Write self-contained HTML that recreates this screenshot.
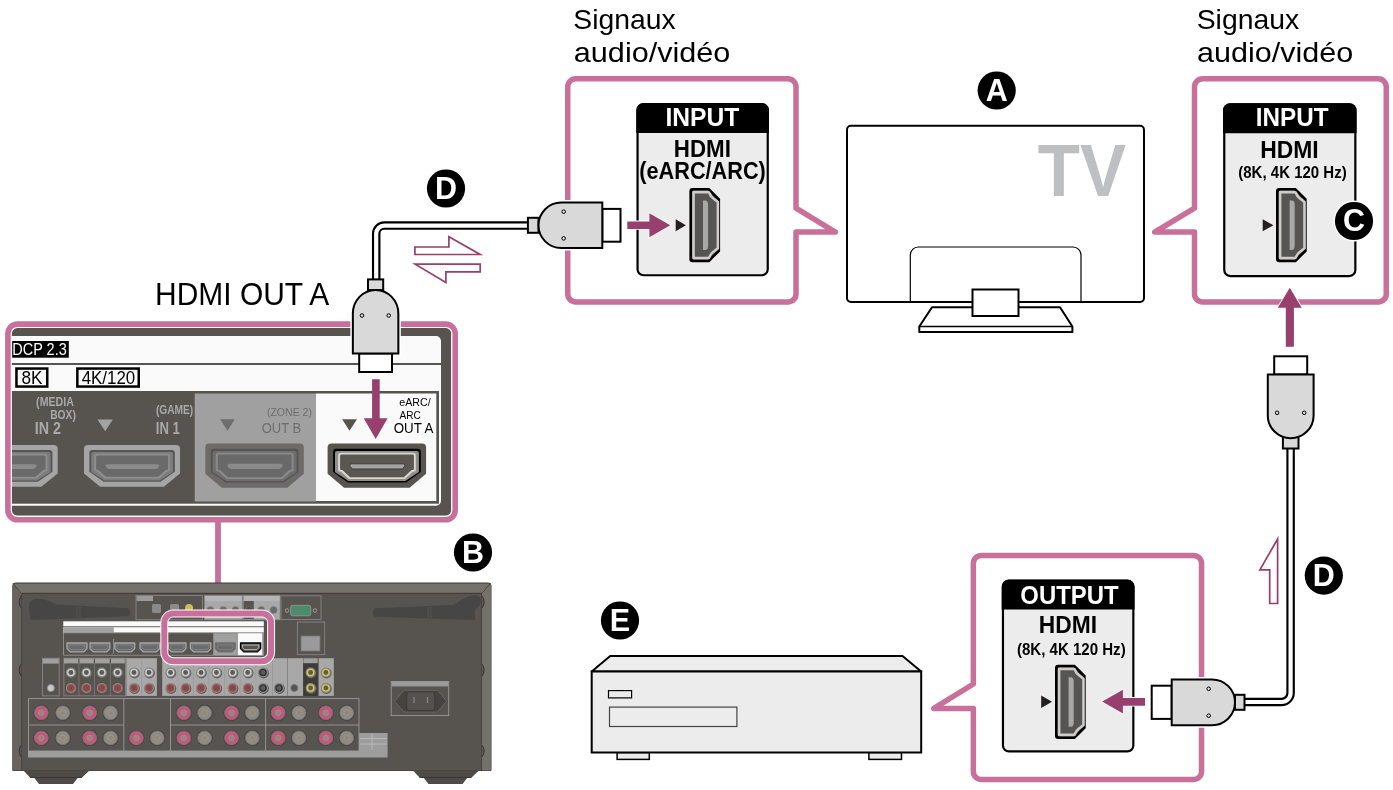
<!DOCTYPE html><html><head><meta charset="utf-8"><style>html,body{margin:0;padding:0;background:#fff;width:1393px;height:790px;overflow:hidden;position:relative}text{font-family:"Liberation Sans",sans-serif}</style></head><body><svg width="1393" height="790" viewBox="0 0 1393 790" style="position:absolute;left:0;top:0;will-change:transform;font-family:'Liberation Sans',sans-serif">
<rect width="1393" height="790" fill="#fff"/>
<text x="573.38" y="28.6" font-size="27.5" font-weight="normal" fill="#000" textLength="102.32" lengthAdjust="spacingAndGlyphs">Signaux</text>
<text x="573.85" y="61.6" font-size="27.5" font-weight="normal" fill="#000" textLength="156.47" lengthAdjust="spacingAndGlyphs">audio/vidéo</text>
<text x="1196.71" y="28.6" font-size="27.5" font-weight="normal" fill="#000" textLength="102.5" lengthAdjust="spacingAndGlyphs">Signaux</text>
<text x="1197.09" y="61.6" font-size="27.5" font-weight="normal" fill="#000" textLength="156.15" lengthAdjust="spacingAndGlyphs">audio/vidéo</text>
<path d="M575.75,78.8 H788 A8,8 0 0 1 796,86.8 V208.2 L835.4,232.1 H796 V293.9 A8,8 0 0 1 788,301.9 H575.75 A8,8 0 0 1 567.75,293.9 V86.8 A8,8 0 0 1 575.75,78.8 Z" fill="none" stroke="#c8709a" stroke-width="5.5" stroke-linejoin="round"/>
<path d="M1202.5,78.8 H1378.25 A8,8 0 0 1 1386.25,86.8 V293.9 A8,8 0 0 1 1378.25,301.9 H1202.5 A8,8 0 0 1 1194.5,293.9 V232.1 H1154.7 L1194.5,208.2 V86.8 A8,8 0 0 1 1202.5,78.8 Z" fill="none" stroke="#c8709a" stroke-width="5.5" stroke-linejoin="round"/>
<path d="M981.35,555.45 H1193.55 A8,8 0 0 1 1201.55,563.45 V771.45 A8,8 0 0 1 1193.55,779.45 H981.35 A8,8 0 0 1 973.35,771.45 V708.4 H933.8 L973.35,684 V563.45 A8,8 0 0 1 981.35,555.45 Z" fill="none" stroke="#c8709a" stroke-width="5.5" stroke-linejoin="round"/>
<rect x="637.55" y="104.25" width="130.20000000000005" height="171.0" rx="6" fill="#ececec" stroke="#000" stroke-width="2.2"/>
<path d="M636.3,133 V110 A7,7 0 0 1 643.3,103 H762 A7,7 0 0 1 769,110 V133 Z" fill="#000"/>
<text x="665.4" y="126.3" font-size="25.5" font-weight="bold" fill="#fff" textLength="73.87" lengthAdjust="spacingAndGlyphs">INPUT</text>
<text x="673.83" y="157.1" font-size="23.3" font-weight="bold" fill="#000" textLength="57.08" lengthAdjust="spacingAndGlyphs">HDMI</text>
<text x="639.33" y="179.2" font-size="23" font-weight="bold" fill="#000" textLength="126.47" lengthAdjust="spacingAndGlyphs">(eARC/ARC)</text>
<g transform="translate(689.4,188) scale(1.0000,1.0000)">
<path d="M3,0 H19.9 L30.7,10.8 V63.4 L19.9,74.2 H3 Q0,74.2 0,71.2 V3 Q0,0 3,0 Z" fill="#000"/>
<path d="M4.8,2.6 H19 L28.1,11.7 V62.5 L19,71.6 H4.8 Q2.6,71.6 2.6,69.4 V4.8 Q2.6,2.6 4.8,2.6 Z" fill="#3c3c3c"/>
<path d="M4.1,4.1 H18.6 Q19.9,4.1 20.5,6 Q21.2,8.2 23.5,10 L28.5,14 V60.2 L23.5,64.2 Q21.2,66 20.5,68.2 Q19.9,70.1 18.6,70.1 H4.1 Z" fill="#575553" stroke="#cfcccb" stroke-width="2.6" stroke-linejoin="round"/>
<path d="M13.6,12.5 H15.6 Q18.7,12.5 18.7,16.5 V58 Q18.7,62 15.6,62 H13.6 Z" fill="#a8a8a8"/>
</g>
<polygon points="675.7,219.3 685.9,225.2 675.7,231.2" fill="#231f20"/>
<path d="M627.3,221.4 H649.4 V213.3 L670.3,225.2 L649.4,237.2 V229 H627.3 Z" fill="#973f6d" stroke="#fff" stroke-width="1.6" paint-order="stroke"/>
<rect x="1224.25" y="104.45" width="131.0999999999999" height="171.60000000000002" rx="6" fill="#ececec" stroke="#000" stroke-width="2.2"/>
<path d="M1223,133.2 V110.2 A7,7 0 0 1 1230,103.2 H1349.6 A7,7 0 0 1 1356.6,110.2 V133.2 Z" fill="#000"/>
<text x="1255.86" y="126.3" font-size="25.5" font-weight="bold" fill="#fff" textLength="72.68" lengthAdjust="spacingAndGlyphs">INPUT</text>
<text x="1260.15" y="157.6" font-size="23.3" font-weight="bold" fill="#000" textLength="58.51" lengthAdjust="spacingAndGlyphs">HDMI</text>
<text x="1238.27" y="178.4" font-size="16.5" font-weight="bold" fill="#000" textLength="108.42" lengthAdjust="spacingAndGlyphs">(8K, 4K 120 Hz)</text>
<g transform="translate(1276,188) scale(1.0000,1.0000)">
<path d="M3,0 H19.9 L30.7,10.8 V63.4 L19.9,74.2 H3 Q0,74.2 0,71.2 V3 Q0,0 3,0 Z" fill="#000"/>
<path d="M4.8,2.6 H19 L28.1,11.7 V62.5 L19,71.6 H4.8 Q2.6,71.6 2.6,69.4 V4.8 Q2.6,2.6 4.8,2.6 Z" fill="#3c3c3c"/>
<path d="M4.1,4.1 H18.6 Q19.9,4.1 20.5,6 Q21.2,8.2 23.5,10 L28.5,14 V60.2 L23.5,64.2 Q21.2,66 20.5,68.2 Q19.9,70.1 18.6,70.1 H4.1 Z" fill="#575553" stroke="#cfcccb" stroke-width="2.6" stroke-linejoin="round"/>
<path d="M13.6,12.5 H15.6 Q18.7,12.5 18.7,16.5 V58 Q18.7,62 15.6,62 H13.6 Z" fill="#a8a8a8"/>
</g>
<polygon points="1262.7,219.2 1273.4,225.25 1262.7,231.3" fill="#231f20"/>
<circle cx="1354" cy="221" r="20.5" fill="#fff"/>
<circle cx="1354" cy="221" r="19.1" fill="#000"/>
<text x="1354" y="231.4" font-size="30.5" font-weight="bold" fill="#fff" text-anchor="middle">C</text>
<rect x="847" y="125.8" width="297" height="176.2" rx="4" fill="#fff" stroke="#000" stroke-width="2"/>
<text x="1037.81" y="196.4" font-size="75" font-weight="bold" fill="#bebfc2" textLength="88.27" lengthAdjust="spacingAndGlyphs">TV</text>
<path d="M910.3,302 V255 A8,8 0 0 1 918.3,247 H1073 A8,8 0 0 1 1081,255 V302" fill="none" stroke="#000" stroke-width="1.2"/>
<path d="M932,307.3 H1060 L1072.4,326.5 V332 H919.3 V326.5 Z" fill="#fff" stroke="#000" stroke-width="2" stroke-linejoin="round"/>
<path d="M919.3,326.5 H1072.4" stroke="#000" stroke-width="1.5"/>
<rect x="972.5" y="289.5" width="46" height="26.5" fill="#fff" stroke="#000" stroke-width="2"/>
<circle cx="996.7" cy="90.5" r="19.1" fill="#000"/>
<text x="996.7" y="100.9" font-size="30.5" font-weight="bold" fill="#fff" text-anchor="middle">A</text>
<path d="M376.2,284 V233.6 A8,8 0 0 1 384.2,225.6 H530" fill="none" stroke="#000" stroke-width="8.5" stroke-linejoin="round"/>
<path d="M376.2,284 V233.6 A8,8 0 0 1 384.2,225.6 H530" fill="none" stroke="#fff" stroke-width="4.2" stroke-linejoin="round"/>
<path d="M1236,702 H1281.6 A9,9 0 0 0 1290.6,693 V445" fill="none" stroke="#000" stroke-width="8.5" stroke-linejoin="round"/>
<path d="M1236,702 H1281.6 A9,9 0 0 0 1290.6,693 V445" fill="none" stroke="#fff" stroke-width="4.2" stroke-linejoin="round"/>
<path d="M561.25,202.55 H602.3 V248.05 H561.25 A22.75,22.75 0 0 1 561.25,202.55 Z" fill="#fff" stroke="#fff" stroke-width="5"/>
<rect x="527.9" y="217.8" width="10.6" height="15" fill="#d9d9d9" stroke="#000" stroke-width="2"/>
<rect x="602.3" y="208.9" width="18.2" height="32.8" fill="#fff" stroke="#000" stroke-width="2"/>
<path d="M561.25,202.55 H602.3 V248.05 H561.25 A22.75,22.75 0 0 1 561.25,202.55 Z" fill="#d9d9d9" stroke="#000" stroke-width="2"/>
<circle cx="563.7" cy="211.70000000000002" r="1.8" fill="none" stroke="#000" stroke-width="1"/>
<circle cx="563.7" cy="238.4" r="1.8" fill="none" stroke="#000" stroke-width="1"/>
<path d="M1212.1,679.4 H1171.7 V725.1999999999999 H1212.1 A22.9,22.9 0 0 0 1212.1,679.4 Z" fill="#fff" stroke="#fff" stroke-width="5"/>
<rect x="1235" y="694.8" width="9.5" height="15" fill="#d9d9d9" stroke="#000" stroke-width="2"/>
<rect x="1151.7" y="685.6999999999999" width="20" height="33.2" fill="#fff" stroke="#000" stroke-width="2"/>
<path d="M1212.1,679.4 H1171.7 V725.1999999999999 H1212.1 A22.9,22.9 0 0 0 1212.1,679.4 Z" fill="#d9d9d9" stroke="#000" stroke-width="2"/>
<circle cx="1208.7" cy="688.8" r="1.8" fill="none" stroke="#000" stroke-width="1"/>
<circle cx="1208.7" cy="715.6999999999999" r="1.8" fill="none" stroke="#000" stroke-width="1"/>
<path d="M1267.8,374.5 H1313.6000000000001 V415.4 A22.9,22.9 0 0 1 1267.8,415.4 Z" fill="#fff" stroke="#fff" stroke-width="5"/>
<rect x="1274.2" y="356.3" width="33" height="18.2" fill="#fff" stroke="#000" stroke-width="2"/>
<rect x="1282.9" y="436.5" width="15.6" height="12" fill="#d9d9d9" stroke="#000" stroke-width="2"/>
<path d="M1267.8,374.5 H1313.6000000000001 V415.4 A22.9,22.9 0 0 1 1267.8,415.4 Z" fill="#d9d9d9" stroke="#000" stroke-width="2"/>
<circle cx="1277.1000000000001" cy="412.8" r="1.8" fill="none" stroke="#000" stroke-width="1"/>
<circle cx="1304.2" cy="412.8" r="1.8" fill="none" stroke="#000" stroke-width="1"/>
<polygon points="414.9,247 448.9,247 448.9,236.7 480.2,254.5 414.9,254.5" fill="none" stroke="#973f6d" stroke-width="1.7" stroke-linejoin="miter"/>
<polygon points="480.2,264.2 415.1,264.2 445.9,282.6 445.9,271.9 480.2,271.9" fill="none" stroke="#973f6d" stroke-width="1.7" stroke-linejoin="miter"/>
<polygon points="1277.6,539 1277.6,603.5 1269.7,603.5 1269.7,569.9 1259.9,569.9" fill="none" stroke="#973f6d" stroke-width="1.7" stroke-linejoin="miter"/>
<path d="M1285.8,346.7 V307.8 H1277.8 L1289.8,287.7 L1301.7,307.8 H1293.9 V346.7 Z" fill="#973f6d" stroke="#fff" stroke-width="1.8" paint-order="stroke"/>
<circle cx="446" cy="188.5" r="19.1" fill="#000"/>
<text x="446" y="198.9" font-size="30.5" font-weight="bold" fill="#fff" text-anchor="middle">D</text>
<circle cx="1323.8" cy="575.6" r="19.1" fill="#000"/>
<text x="1323.8" y="586.0" font-size="30.5" font-weight="bold" fill="#fff" text-anchor="middle">D</text>
<circle cx="620" cy="620.5" r="19.1" fill="#000"/>
<text x="620" y="630.9" font-size="30.5" font-weight="bold" fill="#fff" text-anchor="middle">E</text>
<circle cx="473" cy="552.5" r="19.1" fill="#000"/>
<text x="473" y="562.9" font-size="30.5" font-weight="bold" fill="#fff" text-anchor="middle">B</text>
<rect x="1002.95" y="580.85" width="130.39999999999986" height="170.60000000000002" rx="6" fill="#ececec" stroke="#000" stroke-width="2.2"/>
<path d="M1001.7,609.6 V586.6 A7,7 0 0 1 1008.7,579.6 H1127.6 A7,7 0 0 1 1134.6,586.6 V609.6 Z" fill="#000"/>
<text x="1020.3" y="603.7" font-size="25.5" font-weight="bold" fill="#fff" textLength="98.3" lengthAdjust="spacingAndGlyphs">OUTPUT</text>
<text x="1038.85" y="632.9" font-size="23.3" font-weight="bold" fill="#000" textLength="58.21" lengthAdjust="spacingAndGlyphs">HDMI</text>
<text x="1016.91" y="654.8" font-size="16.5" font-weight="bold" fill="#000" textLength="108.75" lengthAdjust="spacingAndGlyphs">(8K, 4K 120 Hz)</text>
<g transform="translate(1055,664.8) scale(1.0000,1.0000)">
<path d="M3,0 H19.9 L30.7,10.8 V63.4 L19.9,74.2 H3 Q0,74.2 0,71.2 V3 Q0,0 3,0 Z" fill="#000"/>
<path d="M4.8,2.6 H19 L28.1,11.7 V62.5 L19,71.6 H4.8 Q2.6,71.6 2.6,69.4 V4.8 Q2.6,2.6 4.8,2.6 Z" fill="#3c3c3c"/>
<path d="M4.1,4.1 H18.6 Q19.9,4.1 20.5,6 Q21.2,8.2 23.5,10 L28.5,14 V60.2 L23.5,64.2 Q21.2,66 20.5,68.2 Q19.9,70.1 18.6,70.1 H4.1 Z" fill="#575553" stroke="#cfcccb" stroke-width="2.6" stroke-linejoin="round"/>
<path d="M13.6,12.5 H15.6 Q18.7,12.5 18.7,16.5 V58 Q18.7,62 15.6,62 H13.6 Z" fill="#a8a8a8"/>
</g>
<polygon points="1041.2,695.5 1052,701.75 1041.2,708" fill="#231f20"/>
<path d="M1145,697.9 H1122.9 V689.7 L1102.1,701.6 L1122.9,713.6 V705.7 H1145 Z" fill="#973f6d" stroke="#fff" stroke-width="1.6" paint-order="stroke"/>
<path d="M591.7,671.5 L610.2,656.1 H902.5 L921.2,671.5 Z" fill="#ececec" stroke="#000" stroke-width="2" stroke-linejoin="round"/>
<rect x="617.1" y="752.5" width="32.2" height="6.9" fill="#ececec" stroke="#000" stroke-width="1.5"/>
<rect x="868.9" y="752.5" width="32.6" height="6.9" fill="#ececec" stroke="#000" stroke-width="1.5"/>
<rect x="591.7" y="671.5" width="329.5" height="81" fill="#ececec" stroke="#000" stroke-width="2"/>
<rect x="608.5" y="690.6" width="23.1" height="7.3" fill="#ececec" stroke="#000" stroke-width="1.2"/>
<rect x="609.5" y="707.1" width="127.4" height="19.4" fill="#ececec" stroke="#444" stroke-width="1.2"/>
<text x="155.06" y="304.8" font-size="31.6" font-weight="normal" fill="#000" textLength="174.22" lengthAdjust="spacingAndGlyphs">HDMI OUT A</text>
<defs><clipPath id="pclip"><rect x="11.5" y="327.7" width="440" height="188"/></clipPath></defs>
<rect x="11" y="327.7" width="440.2" height="188" rx="2.5" fill="#57534f"/>
<g clip-path="url(#pclip)">
<path d="M0,336 H436 A5,5 0 0 1 441,341 V500.7 A5,5 0 0 1 436,505.7 H0 Z" fill="#fafafa"/>
<rect x="0" y="363" width="441" height="2" fill="#57534f"/>
<rect x="0" y="391" width="439" height="112.7" fill="#57534f"/>
<rect x="194.7" y="393.5" width="121.3" height="108" fill="#a0a0a0"/>
<rect x="316" y="393.5" width="120.3" height="107.5" fill="#fafafa"/>
<rect x="12.2" y="341" width="56.6" height="16.7" fill="#000"/>
<text x="12.28" y="355.4" font-size="16" font-weight="normal" fill="#fff" textLength="54.44" lengthAdjust="spacingAndGlyphs">DCP 2.3</text>
<rect x="16.45" y="368.55" width="30.8" height="18" fill="none" stroke="#000" stroke-width="2.5"/>
<text x="21.43" y="384.3" font-size="18.5" font-weight="normal" fill="#000" textLength="21.05" lengthAdjust="spacingAndGlyphs">8K</text>
<rect x="77.35" y="368.55" width="61.4" height="18" fill="none" stroke="#000" stroke-width="2.5"/>
<text x="81.67" y="383.7" font-size="18.3" font-weight="normal" fill="#000" textLength="53.52" lengthAdjust="spacingAndGlyphs">4K/120</text>
<text x="36.12" y="405.8" font-size="12.5" font-weight="bold" fill="#a9a9a9" textLength="37.68" lengthAdjust="spacingAndGlyphs">(MEDIA</text>
<text x="50.22" y="418.6" font-size="12.5" font-weight="bold" fill="#a9a9a9" textLength="25.62" lengthAdjust="spacingAndGlyphs">BOX)</text>
<text x="34.83" y="433.7" font-size="15.6" font-weight="bold" fill="#a9a9a9" textLength="26.24" lengthAdjust="spacingAndGlyphs">IN 2</text>
<text x="155.88" y="413.9" font-size="12.5" font-weight="bold" fill="#a9a9a9" textLength="37.26" lengthAdjust="spacingAndGlyphs">(GAME)</text>
<text x="155.8" y="433.7" font-size="15.6" font-weight="bold" fill="#a9a9a9" textLength="24.15" lengthAdjust="spacingAndGlyphs">IN 1</text>
<text x="266.93" y="415.9" font-size="11.5" font-weight="normal" fill="#6e6e6e" textLength="45.0" lengthAdjust="spacingAndGlyphs">(ZONE 2)</text>
<text x="261.78" y="433.2" font-size="15.5" font-weight="normal" fill="#6e6e6e" textLength="39.36" lengthAdjust="spacingAndGlyphs">OUT B</text>
<text x="399.28" y="405.7" font-size="11.5" font-weight="normal" fill="#000" textLength="31.35" lengthAdjust="spacingAndGlyphs">eARC/</text>
<text x="399.42" y="418.6" font-size="11.5" font-weight="normal" fill="#000" textLength="21.34" lengthAdjust="spacingAndGlyphs">ARC</text>
<text x="393.65" y="433.2" font-size="15.5" font-weight="normal" fill="#000" textLength="39.76" lengthAdjust="spacingAndGlyphs">OUT A</text>
<polygon points="97.5,419.5 112.8,419.5 105.15,431.2" fill="#a3a3a3"/>
<polygon points="220.2,419.2 234.8,419.2 227.5,430.8" fill="#6e6e6e"/>
<polygon points="342.1,419.2 357,419.2 349.55,430.8" fill="#57534f"/>
<g transform="translate(-40.3,444.9) scale(0.9949,0.9436)">
<path d="M4,0 H94.5 Q98.5,0 98.5,4 V30.4 L82,44.3 H16.5 L0,30.4 V4 Q0,0 4,0 Z" fill="#a5a5a5"/>
<path d="M8.5,5.4 H90.2 Q93.2,5.4 93.2,8.4 V28.5 L78.5,39.1 H20.2 L5.5,28.5 V8.4 Q5.5,5.4 8.5,5.4 Z" fill="#565656"/>
<path d="M9.5,7.6 H89.2 Q91.3,7.6 91.3,9.6 V28.6 L77.8,37.6 H20.9 L7.4,28.6 V9.6 Q7.4,7.6 9.5,7.6 Z" fill="#7c7c7c"/>
<path d="M13,9.4 H85.7 Q88.2,9.4 88.2,12 V26.6 Q88.2,28.4 86,28.4 H85.2 L77.3,35.6 H21.3 L13.5,28.4 H12.7 Q10.5,28.4 10.5,26.6 V12 Q10.5,9.4 13,9.4 Z" fill="#8e8e8e"/>
<path d="M14,11.2 H85 Q86.3,11.2 86.3,12.5 V25.5 Q86.3,26.6 85,26.6 H84 L76.2,33.8 H22.6 L14.8,26.6 H13.8 Q12.5,26.6 12.5,25.5 V12.5 Q12.5,11.2 14,11.2 Z" fill="#6a6a6a"/>
<path d="M24,20.4 H75.5 Q77.3,20.4 77.3,22 Q77.3,23 75.8,24.6 Q75,25.6 73.5,25.6 H26 Q24.5,25.6 23.7,24.6 Q22.2,23 22.2,22 Q22.2,20.4 24,20.4 Z" fill="#8b8b8b"/>
</g>
<g transform="translate(84,444.9) scale(0.9746,0.9436)">
<path d="M4,0 H94.5 Q98.5,0 98.5,4 V30.4 L82,44.3 H16.5 L0,30.4 V4 Q0,0 4,0 Z" fill="#a5a5a5"/>
<path d="M8.5,5.4 H90.2 Q93.2,5.4 93.2,8.4 V28.5 L78.5,39.1 H20.2 L5.5,28.5 V8.4 Q5.5,5.4 8.5,5.4 Z" fill="#565656"/>
<path d="M9.5,7.6 H89.2 Q91.3,7.6 91.3,9.6 V28.6 L77.8,37.6 H20.9 L7.4,28.6 V9.6 Q7.4,7.6 9.5,7.6 Z" fill="#7c7c7c"/>
<path d="M13,9.4 H85.7 Q88.2,9.4 88.2,12 V26.6 Q88.2,28.4 86,28.4 H85.2 L77.3,35.6 H21.3 L13.5,28.4 H12.7 Q10.5,28.4 10.5,26.6 V12 Q10.5,9.4 13,9.4 Z" fill="#8e8e8e"/>
<path d="M14,11.2 H85 Q86.3,11.2 86.3,12.5 V25.5 Q86.3,26.6 85,26.6 H84 L76.2,33.8 H22.6 L14.8,26.6 H13.8 Q12.5,26.6 12.5,25.5 V12.5 Q12.5,11.2 14,11.2 Z" fill="#6a6a6a"/>
<path d="M24,20.4 H75.5 Q77.3,20.4 77.3,22 Q77.3,23 75.8,24.6 Q75,25.6 73.5,25.6 H26 Q24.5,25.6 23.7,24.6 Q22.2,23 22.2,22 Q22.2,20.4 24,20.4 Z" fill="#8b8b8b"/>
</g>
<g transform="translate(205.3,443.4) scale(1.0000,1.0000)">
<path d="M4,0 H94.5 Q98.5,0 98.5,4 V30.4 L82,44.3 H16.5 L0,30.4 V4 Q0,0 4,0 Z" fill="#6d6b68"/>
<path d="M8.5,5.4 H90.2 Q93.2,5.4 93.2,8.4 V28.5 L78.5,39.1 H20.2 L5.5,28.5 V8.4 Q5.5,5.4 8.5,5.4 Z" fill="#555555"/>
<path d="M9.5,7.6 H89.2 Q91.3,7.6 91.3,9.6 V28.6 L77.8,37.6 H20.9 L7.4,28.6 V9.6 Q7.4,7.6 9.5,7.6 Z" fill="#6e6e6e"/>
<path d="M13,9.4 H85.7 Q88.2,9.4 88.2,12 V26.6 Q88.2,28.4 86,28.4 H85.2 L77.3,35.6 H21.3 L13.5,28.4 H12.7 Q10.5,28.4 10.5,26.6 V12 Q10.5,9.4 13,9.4 Z" fill="#8a8a8a"/>
<path d="M14,11.2 H85 Q86.3,11.2 86.3,12.5 V25.5 Q86.3,26.6 85,26.6 H84 L76.2,33.8 H22.6 L14.8,26.6 H13.8 Q12.5,26.6 12.5,25.5 V12.5 Q12.5,11.2 14,11.2 Z" fill="#696969"/>
<path d="M24,20.4 H75.5 Q77.3,20.4 77.3,22 Q77.3,23 75.8,24.6 Q75,25.6 73.5,25.6 H26 Q24.5,25.6 23.7,24.6 Q22.2,23 22.2,22 Q22.2,20.4 24,20.4 Z" fill="#8a8a8a"/>
</g>
<g transform="translate(327.6,443.4) scale(1.0000,1.0000)">
<path d="M4,0 H94.5 Q98.5,0 98.5,4 V30.4 L82,44.3 H16.5 L0,30.4 V4 Q0,0 4,0 Z" fill="#57534f"/>
<path d="M8.5,5.4 H90.2 Q93.2,5.4 93.2,8.4 V28.5 L78.5,39.1 H20.2 L5.5,28.5 V8.4 Q5.5,5.4 8.5,5.4 Z" fill="#000000"/>
<path d="M9.5,7.6 H89.2 Q91.3,7.6 91.3,9.6 V28.6 L77.8,37.6 H20.9 L7.4,28.6 V9.6 Q7.4,7.6 9.5,7.6 Z" fill="#8e8e8e"/>
<path d="M13,9.4 H85.7 Q88.2,9.4 88.2,12 V26.6 Q88.2,28.4 86,28.4 H85.2 L77.3,35.6 H21.3 L13.5,28.4 H12.7 Q10.5,28.4 10.5,26.6 V12 Q10.5,9.4 13,9.4 Z" fill="#d9d6cf"/>
<path d="M14,11.2 H85 Q86.3,11.2 86.3,12.5 V25.5 Q86.3,26.6 85,26.6 H84 L76.2,33.8 H22.6 L14.8,26.6 H13.8 Q12.5,26.6 12.5,25.5 V12.5 Q12.5,11.2 14,11.2 Z" fill="#5a5652"/>
<path d="M24,20.4 H75.5 Q77.3,20.4 77.3,22 Q77.3,23 75.8,24.6 Q75,25.6 73.5,25.6 H26 Q24.5,25.6 23.7,24.6 Q22.2,23 22.2,22 Q22.2,20.4 24,20.4 Z" fill="#a3a3a3" stroke="#3e3b38" stroke-width="1"/>
</g>
</g>
<path d="M372.1,379.3 V418.2 H363.7 L375.7,439 L387.6,418.2 H379.7 V379.3 Z" fill="#973f6d"/>
<rect x="7.9" y="324.1" width="447.3" height="195.6" rx="9.5" fill="none" stroke="#fff" stroke-width="8"/>
<rect x="7.9" y="324.1" width="447.3" height="195.6" rx="9.5" fill="none" stroke="#c8709a" stroke-width="5.6"/>
<path d="M352.85,353.4 H398.35 V313.5 A22.75,23.5 0 0 0 352.85,313.5 Z" fill="#fff" stroke="#fff" stroke-width="5"/>
<rect x="368.0" y="279.4" width="15.2" height="10.6" fill="#d9d9d9" stroke="#000" stroke-width="2"/>
<rect x="359.20000000000005" y="353.4" width="32.8" height="18.6" fill="#fff" stroke="#000" stroke-width="2"/>
<path d="M352.85,353.4 H398.35 V313.5 A22.75,23.5 0 0 0 352.85,313.5 Z" fill="#d9d9d9" stroke="#000" stroke-width="2"/>
<circle cx="362.0" cy="315.5" r="1.8" fill="none" stroke="#000" stroke-width="1"/>
<circle cx="388.70000000000005" cy="315.5" r="1.8" fill="none" stroke="#000" stroke-width="1"/>
<line x1="218" y1="519" x2="218" y2="613" stroke="#c8709a" stroke-width="5.8"/>
<path d="M15.5,583 H488.5 Q491,583 491,585.5 V770.5 H12.8 V585.5 Q12.8,583 15.5,583 Z" fill="#75726d" stroke="#3e3632" stroke-width="1"/>
<path d="M21.2,593.3 H482.1 V770.5 H21.2 Z" fill="#57534f"/>
<path d="M13,583.5 L21.2,593.3 H482.1 L490.5,583.5 M21.2,593.3 V770 M482.1,593.3 V770" fill="none" stroke="#3e3632" stroke-width="1"/>
<path d="M13,584 L21.2,593.3 V770.5 H13 Z" fill="#67635f"/>
<path d="M490.8,584 L482.1,593.3 V770.5 H490.8 Z" fill="#75726d"/>
<path d="M21.2,596 Q17,602 21.2,608" fill="#57534f" stroke="#3e3632" stroke-width="1"/>
<path d="M482.1,596 Q486.3,602 482.1,608" fill="#57534f" stroke="#3e3632" stroke-width="1"/>
<path d="M21.2,664 Q17,670 21.2,676" fill="#57534f" stroke="#3e3632" stroke-width="1"/>
<path d="M482.1,664 Q486.3,670 482.1,676" fill="#57534f" stroke="#3e3632" stroke-width="1"/>
<path d="M21.2,745 Q17,751 21.2,757" fill="#57534f" stroke="#3e3632" stroke-width="1"/>
<path d="M482.1,745 Q486.3,751 482.1,757" fill="#57534f" stroke="#3e3632" stroke-width="1"/>
<path d="M23.5,770.5 H89.5 L82,777.5 H78 L73,784 H39 L34,777.5 H30 Z" fill="#4e4a47"/>
<path d="M413,770.5 H479 L471.5,777.5 H467.5 L462.5,784 H428.5 L423.5,777.5 H419.5 Z" fill="#4e4a47"/>
<path d="M30,777.5 H82 M419.5,777.5 H471.5" stroke="#3a3633" stroke-width="1"/>
<path d="M29,606 Q29.5,599 38,598.8 Q46,598.8 56,604.5 L75,605.5 L128.5,608.2 Q132.5,612.2 128.5,616.2 L75,618.5 L31,620 Q28.5,613 29,606 Z" fill="#474645"/>
<path d="M481,600.5 Q479.5,594.5 472,595.5 Q462,598 454.5,604.8 L430,606 L375,608.3 Q370.5,612.5 375,616.7 L430,618.5 L475,620 L475,609 Q481.5,606 481,600.5 Z" fill="#474645"/>
<path d="M77,606 V618.5 M80,606 V618.5 M428,606.5 V618.5 M431,606.5 V618.5" stroke="#5e5d5c" stroke-width="0.6"/>
<rect x="136" y="595.5" width="66.5" height="24.3" fill="#57534f" stroke="#8c8c8c" stroke-width="0.8"/>
<rect x="136.5" y="596" width="16.5" height="5" fill="#9a9a9a"/>
<rect x="152" y="604" width="9" height="9" rx="1.5" fill="#8a8a8a"/><rect x="170" y="604" width="9" height="9" rx="1.5" fill="#8a8a8a"/><circle cx="189" cy="608" r="4" fill="#cbbd5a"/>
<rect x="204.6" y="595.5" width="37.7" height="24.3" fill="#a8a8a8" stroke="#8c8c8c" stroke-width="0.8"/>
<rect x="243.4" y="595.5" width="36.6" height="24.3" fill="#a8a8a8" stroke="#8c8c8c" stroke-width="0.8"/>
<rect x="243.8" y="601" width="10" height="18" fill="#57534f"/>
<rect x="205" y="596" width="36.9" height="5" fill="#b5b5b5"/><rect x="243.8" y="596" width="35.8" height="5" fill="#b5b5b5"/>
<circle cx="210.4" cy="610" r="3.6" fill="#6a6a6a" stroke="#888" stroke-width="0.6"/>
<circle cx="223.3" cy="610" r="3.6" fill="#6a6a6a" stroke="#888" stroke-width="0.6"/>
<circle cx="235.5" cy="610" r="3.6" fill="#6a6a6a" stroke="#888" stroke-width="0.6"/>
<circle cx="261.4" cy="610" r="3.6" fill="#6a6a6a" stroke="#888" stroke-width="0.6"/>
<circle cx="273.6" cy="610" r="3.6" fill="#6a6a6a" stroke="#888" stroke-width="0.6"/>
<circle cx="249.2" cy="610" r="3.6" fill="#4a4a4a" stroke="#777" stroke-width="0.6"/>
<rect x="281" y="595.8" width="40" height="23.8" fill="#57534f" stroke="#8c8c8c" stroke-width="0.8"/>
<rect x="290.6" y="605.3" width="20.2" height="10.5" rx="2" fill="#4e8a6e" stroke="#999" stroke-width="0.8"/><circle cx="287" cy="610.5" r="1.8" fill="none" stroke="#999"/><circle cx="315" cy="610.5" r="1.8" fill="none" stroke="#999"/>
<rect x="297.3" y="622" width="27.4" height="32.7" fill="#57534f" stroke="#8c8c8c" stroke-width="0.8"/>
<rect x="301" y="636" width="19" height="15" fill="#9a9a9a" stroke="#777" stroke-width="0.8"/>
<rect x="63.3" y="621.3" width="200.5" height="5" fill="#fafafa"/>
<rect x="63.3" y="627.2" width="200.5" height="5.6" fill="#fafafa"/>
<rect x="63.3" y="627.2" width="50.5" height="5.6" fill="#a3a3a3"/>
<rect x="63.6" y="632.8" width="200" height="22.4" fill="#57534f" stroke="#9a9a9a" stroke-width="0.8"/>
<rect x="213.3" y="633.2" width="24.5" height="22" fill="#a0a0a0"/><rect x="237.9" y="633.2" width="24.6" height="22" fill="#fafafa"/>
<polygon points="67,643 87,643 87,648.5999999999999 83.8,651.8 70.2,651.8 67,648.5999999999999" fill="#6a6a6a" stroke="#a8a8a8" stroke-width="1.3" stroke-linejoin="round"/>
<polygon points="69,645 85,645 85,647.6 83,649.6 71,649.6 69,647.6" fill="none" stroke="#8a8a8a" stroke-width="0.7" stroke-linejoin="round"/>
<polygon points="90,643 109.8,643 109.8,648.5999999999999 106.6,651.8 93.2,651.8 90,648.5999999999999" fill="#6a6a6a" stroke="#a8a8a8" stroke-width="1.3" stroke-linejoin="round"/>
<polygon points="92,645 107.8,645 107.8,647.6 105.8,649.6 94,649.6 92,647.6" fill="none" stroke="#8a8a8a" stroke-width="0.7" stroke-linejoin="round"/>
<polygon points="114.8,643 134.7,643 134.7,648.5999999999999 131.5,651.8 118.0,651.8 114.8,648.5999999999999" fill="#6a6a6a" stroke="#a8a8a8" stroke-width="1.3" stroke-linejoin="round"/>
<polygon points="116.8,645 132.7,645 132.7,647.6 130.7,649.6 118.8,649.6 116.8,647.6" fill="none" stroke="#8a8a8a" stroke-width="0.7" stroke-linejoin="round"/>
<polygon points="140,643 159.7,643 159.7,648.5999999999999 156.5,651.8 143.2,651.8 140,648.5999999999999" fill="#6a6a6a" stroke="#a8a8a8" stroke-width="1.3" stroke-linejoin="round"/>
<polygon points="142,645 157.7,645 157.7,647.6 155.7,649.6 144,649.6 142,647.6" fill="none" stroke="#8a8a8a" stroke-width="0.7" stroke-linejoin="round"/>
<polygon points="168.2,643 186.0,643 186.0,648.5999999999999 182.8,651.8 171.39999999999998,651.8 168.2,648.5999999999999" fill="#6a6a6a" stroke="#a8a8a8" stroke-width="1.3" stroke-linejoin="round"/>
<polygon points="170.2,645 184.0,645 184.0,647.6 182.0,649.6 172.2,649.6 170.2,647.6" fill="none" stroke="#8a8a8a" stroke-width="0.7" stroke-linejoin="round"/>
<polygon points="190.4,643 210.8,643 210.8,648.5999999999999 207.60000000000002,651.8 193.6,651.8 190.4,648.5999999999999" fill="#6a6a6a" stroke="#a8a8a8" stroke-width="1.3" stroke-linejoin="round"/>
<polygon points="192.4,645 208.8,645 208.8,647.6 206.8,649.6 194.4,649.6 192.4,647.6" fill="none" stroke="#8a8a8a" stroke-width="0.7" stroke-linejoin="round"/>
<polygon points="215.4,643 235.2,643 235.2,648.5999999999999 232.0,651.8 218.6,651.8 215.4,648.5999999999999" fill="#6a6a6a" stroke="#6e6e6e" stroke-width="1.3" stroke-linejoin="round"/>
<polygon points="217.4,645 233.2,645 233.2,647.6 231.2,649.6 219.4,649.6 217.4,647.6" fill="none" stroke="#8a8a8a" stroke-width="0.7" stroke-linejoin="round"/>
<polygon points="240.5,643 260.7,643 260.7,648.5999999999999 257.5,651.8 243.7,651.8 240.5,648.5999999999999" fill="#57534f" stroke="#000" stroke-width="1.3" stroke-linejoin="round"/>
<polygon points="242.5,645 258.7,645 258.7,647.6 256.7,649.6 244.5,649.6 242.5,647.6" fill="none" stroke="#ddd" stroke-width="0.7" stroke-linejoin="round"/>
<line x1="113.6" y1="639" x2="113.6" y2="654" stroke="#9a9a9a" stroke-width="0.8"/>
<rect x="42.4" y="658.2" width="16.8" height="37.7" fill="#57534f" stroke="#8c8c8c" stroke-width="0.8"/>
<rect x="42.8" y="658.6" width="16" height="5" fill="#a0a0a0"/><circle cx="50.8" cy="688" r="3.6" fill="#c8c8c8" stroke="#888"/>
<rect x="63.9" y="658.2" width="61.7" height="37.7" fill="#57534f" stroke="#8c8c8c" stroke-width="0.8"/>
<rect x="64" y="658.4" width="14.299999999999997" height="5" fill="#a0a0a0"/>
<rect x="79.5" y="658.4" width="14.299999999999997" height="5" fill="#a0a0a0"/>
<rect x="95" y="658.4" width="14.700000000000003" height="5" fill="#a0a0a0"/>
<rect x="111" y="658.4" width="13.799999999999997" height="5" fill="#a0a0a0"/>
<path d="M78.9,663 V696 M94.4,663 V696 M110.3,663 V696" stroke="#8c8c8c" stroke-width="0.6"/>
<rect x="126.3" y="658.2" width="30.6" height="37.7" fill="#a8a8a8"/>
<path d="M141.6,659 V696" stroke="#959595" stroke-width="0.6"/>
<rect x="162.2" y="658.2" width="110" height="37.7" fill="#a8a8a8"/>
<path d="M177.8,659 V696 M193.3,659 V696 M208.8,659 V696 M224.5,659 V696 M240.2,659 V696 M255.7,659 V680" stroke="#959595" stroke-width="0.6"/>
<rect x="272.2" y="658.2" width="15" height="37.7" fill="#a8a8a8"/><rect x="287.5" y="658.2" width="15.5" height="37.7" fill="#a8a8a8"/>
<rect x="303.3" y="658.2" width="14.4" height="37.7" fill="#3e3b38"/><rect x="318.7" y="658.2" width="15.1" height="37.7" fill="#a8a8a8"/>
<rect x="303.3" y="658.2" width="14.4" height="5" fill="#a0a0a0"/>
<circle cx="71.4" cy="673.1" r="5.3" fill="#5e5b58" /><circle cx="70.9" cy="672.5" r="5" fill="#8a8a8a" /><circle cx="70.9" cy="672.5" r="3.8" fill="#cfcfcf"/><circle cx="70.9" cy="672.5" r="2.4" fill="#5a5a5a"/>
<circle cx="71.4" cy="688.6" r="5.3" fill="#5e5b58" /><circle cx="70.9" cy="688" r="5" fill="#8a8a8a" /><circle cx="70.9" cy="688" r="3.8" fill="#c23a3a"/><circle cx="70.9" cy="688" r="2.4" fill="#5a5a5a"/>
<circle cx="86.9" cy="673.1" r="5.3" fill="#5e5b58" /><circle cx="86.4" cy="672.5" r="5" fill="#8a8a8a" /><circle cx="86.4" cy="672.5" r="3.8" fill="#cfcfcf"/><circle cx="86.4" cy="672.5" r="2.4" fill="#5a5a5a"/>
<circle cx="86.9" cy="688.6" r="5.3" fill="#5e5b58" /><circle cx="86.4" cy="688" r="5" fill="#8a8a8a" /><circle cx="86.4" cy="688" r="3.8" fill="#c23a3a"/><circle cx="86.4" cy="688" r="2.4" fill="#5a5a5a"/>
<circle cx="102.3" cy="673.1" r="5.3" fill="#5e5b58" /><circle cx="101.8" cy="672.5" r="5" fill="#8a8a8a" /><circle cx="101.8" cy="672.5" r="3.8" fill="#cfcfcf"/><circle cx="101.8" cy="672.5" r="2.4" fill="#5a5a5a"/>
<circle cx="102.3" cy="688.6" r="5.3" fill="#5e5b58" /><circle cx="101.8" cy="688" r="5" fill="#8a8a8a" /><circle cx="101.8" cy="688" r="3.8" fill="#c23a3a"/><circle cx="101.8" cy="688" r="2.4" fill="#5a5a5a"/>
<circle cx="118.1" cy="673.1" r="5.3" fill="#5e5b58" /><circle cx="117.6" cy="672.5" r="5" fill="#8a8a8a" /><circle cx="117.6" cy="672.5" r="3.8" fill="#cfcfcf"/><circle cx="117.6" cy="672.5" r="2.4" fill="#5a5a5a"/>
<circle cx="118.1" cy="688.6" r="5.3" fill="#5e5b58" /><circle cx="117.6" cy="688" r="5" fill="#8a8a8a" /><circle cx="117.6" cy="688" r="3.8" fill="#c23a3a"/><circle cx="117.6" cy="688" r="2.4" fill="#5a5a5a"/>
<circle cx="134.5" cy="673.1" r="5.3" fill="#5e5b58" /><circle cx="134" cy="672.5" r="5" fill="#8a8a8a" /><circle cx="134" cy="672.5" r="3.8" fill="#cfcfcf"/><circle cx="134" cy="672.5" r="2.4" fill="#5a5a5a"/>
<circle cx="134.5" cy="688.6" r="5.3" fill="#5e5b58" /><circle cx="134" cy="688" r="5" fill="#8a8a8a" /><circle cx="134" cy="688" r="3.8" fill="#c23a3a"/><circle cx="134" cy="688" r="2.4" fill="#5a5a5a"/>
<circle cx="149.5" cy="673.1" r="5.3" fill="#5e5b58" /><circle cx="149" cy="672.5" r="5" fill="#8a8a8a" /><circle cx="149" cy="672.5" r="3.8" fill="#cfcfcf"/><circle cx="149" cy="672.5" r="2.4" fill="#5a5a5a"/>
<circle cx="149.5" cy="688.6" r="5.3" fill="#5e5b58" /><circle cx="149" cy="688" r="5" fill="#8a8a8a" /><circle cx="149" cy="688" r="3.8" fill="#c23a3a"/><circle cx="149" cy="688" r="2.4" fill="#5a5a5a"/>
<circle cx="171.0" cy="673.1" r="5.3" fill="#5e5b58" /><circle cx="170.5" cy="672.5" r="5" fill="#8a8a8a" /><circle cx="170.5" cy="672.5" r="3.8" fill="#cfcfcf"/><circle cx="170.5" cy="672.5" r="2.4" fill="#5a5a5a"/>
<circle cx="171.0" cy="688.6" r="5.3" fill="#5e5b58" /><circle cx="170.5" cy="688" r="5" fill="#8a8a8a" /><circle cx="170.5" cy="688" r="3.8" fill="#c23a3a"/><circle cx="170.5" cy="688" r="2.4" fill="#5a5a5a"/>
<circle cx="186.1" cy="673.1" r="5.3" fill="#5e5b58" /><circle cx="185.6" cy="672.5" r="5" fill="#8a8a8a" /><circle cx="185.6" cy="672.5" r="3.8" fill="#cfcfcf"/><circle cx="185.6" cy="672.5" r="2.4" fill="#5a5a5a"/>
<circle cx="186.1" cy="688.6" r="5.3" fill="#5e5b58" /><circle cx="185.6" cy="688" r="5" fill="#8a8a8a" /><circle cx="185.6" cy="688" r="3.8" fill="#c23a3a"/><circle cx="185.6" cy="688" r="2.4" fill="#5a5a5a"/>
<circle cx="201.5" cy="673.1" r="5.3" fill="#5e5b58" /><circle cx="201" cy="672.5" r="5" fill="#8a8a8a" /><circle cx="201" cy="672.5" r="3.8" fill="#cfcfcf"/><circle cx="201" cy="672.5" r="2.4" fill="#5a5a5a"/>
<circle cx="201.5" cy="688.6" r="5.3" fill="#5e5b58" /><circle cx="201" cy="688" r="5" fill="#8a8a8a" /><circle cx="201" cy="688" r="3.8" fill="#c23a3a"/><circle cx="201" cy="688" r="2.4" fill="#5a5a5a"/>
<circle cx="216.9" cy="673.1" r="5.3" fill="#5e5b58" /><circle cx="216.4" cy="672.5" r="5" fill="#8a8a8a" /><circle cx="216.4" cy="672.5" r="3.8" fill="#cfcfcf"/><circle cx="216.4" cy="672.5" r="2.4" fill="#5a5a5a"/>
<circle cx="216.9" cy="688.6" r="5.3" fill="#5e5b58" /><circle cx="216.4" cy="688" r="5" fill="#8a8a8a" /><circle cx="216.4" cy="688" r="3.8" fill="#c23a3a"/><circle cx="216.4" cy="688" r="2.4" fill="#5a5a5a"/>
<circle cx="233.1" cy="673.1" r="5.3" fill="#5e5b58" /><circle cx="232.6" cy="672.5" r="5" fill="#8a8a8a" /><circle cx="232.6" cy="672.5" r="3.8" fill="#cfcfcf"/><circle cx="232.6" cy="672.5" r="2.4" fill="#5a5a5a"/>
<circle cx="233.1" cy="688.6" r="5.3" fill="#5e5b58" /><circle cx="232.6" cy="688" r="5" fill="#8a8a8a" /><circle cx="232.6" cy="688" r="3.8" fill="#c23a3a"/><circle cx="232.6" cy="688" r="2.4" fill="#5a5a5a"/>
<circle cx="248.2" cy="673.1" r="5.3" fill="#5e5b58" /><circle cx="247.7" cy="672.5" r="5" fill="#8a8a8a" /><circle cx="247.7" cy="672.5" r="3.8" fill="#cfcfcf"/><circle cx="247.7" cy="672.5" r="2.4" fill="#5a5a5a"/>
<circle cx="248.2" cy="688.6" r="5.3" fill="#5e5b58" /><circle cx="247.7" cy="688" r="5" fill="#8a8a8a" /><circle cx="247.7" cy="688" r="3.8" fill="#c23a3a"/><circle cx="247.7" cy="688" r="2.4" fill="#5a5a5a"/>
<circle cx="263.5" cy="673.1" r="5.3" fill="#5e5b58" /><circle cx="263" cy="672.5" r="5" fill="#8a8a8a" /><circle cx="263" cy="672.5" r="3.8" fill="#333"/><circle cx="263" cy="672.5" r="2.4" fill="#5a5a5a"/>
<circle cx="263.5" cy="688.6" r="5.3" fill="#5e5b58" /><circle cx="263" cy="688" r="5" fill="#8a8a8a" /><circle cx="263" cy="688" r="3.8" fill="#333"/><circle cx="263" cy="688" r="2.4" fill="#5a5a5a"/>
<circle cx="279.5" cy="688.6" r="5.3" fill="#5e5b58" /><circle cx="279" cy="688" r="5" fill="#8a8a8a" /><circle cx="279" cy="688" r="3.8" fill="#333"/><circle cx="279" cy="688" r="2.4" fill="#5a5a5a"/>
<circle cx="294.3" cy="688" r="3.5" fill="#555" stroke="#777"/>
<circle cx="311.1" cy="673.1" r="5.3" fill="#5e5b58" /><circle cx="310.6" cy="672.5" r="5" fill="#8a8a8a" /><circle cx="310.6" cy="672.5" r="3.8" fill="#d8c840"/><circle cx="310.6" cy="672.5" r="2.4" fill="#5a5a5a"/>
<circle cx="311.1" cy="688.6" r="5.3" fill="#5e5b58" /><circle cx="310.6" cy="688" r="5" fill="#8a8a8a" /><circle cx="310.6" cy="688" r="3.8" fill="#d8c840"/><circle cx="310.6" cy="688" r="2.4" fill="#5a5a5a"/>
<circle cx="326.4" cy="673.1" r="5.3" fill="#5e5b58" /><circle cx="325.9" cy="672.5" r="5" fill="#8a8a8a" /><circle cx="325.9" cy="672.5" r="3.8" fill="#d8c840"/><circle cx="325.9" cy="672.5" r="2.4" fill="#5a5a5a"/>
<circle cx="326.4" cy="688.6" r="5.3" fill="#5e5b58" /><circle cx="325.9" cy="688" r="5" fill="#8a8a8a" /><circle cx="325.9" cy="688" r="3.8" fill="#d8c840"/><circle cx="325.9" cy="688" r="2.4" fill="#5a5a5a"/>
<rect x="28.5" y="698.6" width="330.5" height="52.4" fill="none" stroke="#9a9a9a" stroke-width="0.9"/>
<path d="M28.5,725 H123.8 M170.5,725 H359 M123.8,698.6 V751 M170.5,698.6 V751 M265.6,698.6 V751" stroke="#9a9a9a" stroke-width="0.9"/>
<path d="M28,751 H387.6 V757.5 H28 Z" fill="#9d9d9d"/>
<rect x="359" y="733" width="28.6" height="18" fill="#9d9d9d"/>
<path d="M360,738.5 H387 M360,744 H387 M372,733.5 V750" stroke="#c4c4c4" stroke-width="0.7"/>
<circle cx="41.3" cy="712.8" r="8" fill="#3f3c39"/><circle cx="41.3" cy="712.8" r="7" fill="#c0597f" stroke="#777" stroke-width="0.8"/><circle cx="41.3" cy="712.8" r="2.6" fill="#8a8784" stroke="#b39a6a" stroke-width="0.7"/>
<circle cx="41.3" cy="737.9" r="8" fill="#3f3c39"/><circle cx="41.3" cy="737.9" r="7" fill="#c0597f" stroke="#777" stroke-width="0.8"/><circle cx="41.3" cy="737.9" r="2.6" fill="#8a8784" stroke="#b39a6a" stroke-width="0.7"/>
<circle cx="62.8" cy="712.8" r="8" fill="#3f3c39"/><circle cx="62.8" cy="712.8" r="7" fill="#8d8a87" stroke="#777" stroke-width="0.8"/><circle cx="62.8" cy="712.8" r="2.6" fill="#8a8784" stroke="#b39a6a" stroke-width="0.7"/>
<circle cx="62.8" cy="737.9" r="8" fill="#3f3c39"/><circle cx="62.8" cy="737.9" r="7" fill="#8d8a87" stroke="#777" stroke-width="0.8"/><circle cx="62.8" cy="737.9" r="2.6" fill="#8a8784" stroke="#b39a6a" stroke-width="0.7"/>
<circle cx="89.7" cy="712.8" r="8" fill="#3f3c39"/><circle cx="89.7" cy="712.8" r="7" fill="#c0597f" stroke="#777" stroke-width="0.8"/><circle cx="89.7" cy="712.8" r="2.6" fill="#8a8784" stroke="#b39a6a" stroke-width="0.7"/>
<circle cx="89.7" cy="737.9" r="8" fill="#3f3c39"/><circle cx="89.7" cy="737.9" r="7" fill="#c0597f" stroke="#777" stroke-width="0.8"/><circle cx="89.7" cy="737.9" r="2.6" fill="#8a8784" stroke="#b39a6a" stroke-width="0.7"/>
<circle cx="110.5" cy="712.8" r="8" fill="#3f3c39"/><circle cx="110.5" cy="712.8" r="7" fill="#8d8a87" stroke="#777" stroke-width="0.8"/><circle cx="110.5" cy="712.8" r="2.6" fill="#8a8784" stroke="#b39a6a" stroke-width="0.7"/>
<circle cx="110.5" cy="737.9" r="8" fill="#3f3c39"/><circle cx="110.5" cy="737.9" r="7" fill="#8d8a87" stroke="#777" stroke-width="0.8"/><circle cx="110.5" cy="737.9" r="2.6" fill="#8a8784" stroke="#b39a6a" stroke-width="0.7"/>
<circle cx="136.4" cy="737.9" r="8" fill="#3f3c39"/><circle cx="136.4" cy="737.9" r="7" fill="#c0597f" stroke="#777" stroke-width="0.8"/><circle cx="136.4" cy="737.9" r="2.6" fill="#8a8784" stroke="#b39a6a" stroke-width="0.7"/>
<circle cx="157.2" cy="737.9" r="8" fill="#3f3c39"/><circle cx="157.2" cy="737.9" r="7" fill="#8d8a87" stroke="#777" stroke-width="0.8"/><circle cx="157.2" cy="737.9" r="2.6" fill="#8a8784" stroke="#b39a6a" stroke-width="0.7"/>
<circle cx="183.8" cy="712.8" r="8" fill="#3f3c39"/><circle cx="183.8" cy="712.8" r="7" fill="#c0597f" stroke="#777" stroke-width="0.8"/><circle cx="183.8" cy="712.8" r="2.6" fill="#8a8784" stroke="#b39a6a" stroke-width="0.7"/>
<circle cx="183.8" cy="737.9" r="8" fill="#3f3c39"/><circle cx="183.8" cy="737.9" r="7" fill="#c0597f" stroke="#777" stroke-width="0.8"/><circle cx="183.8" cy="737.9" r="2.6" fill="#8a8784" stroke="#b39a6a" stroke-width="0.7"/>
<circle cx="204.6" cy="712.8" r="8" fill="#3f3c39"/><circle cx="204.6" cy="712.8" r="7" fill="#8d8a87" stroke="#777" stroke-width="0.8"/><circle cx="204.6" cy="712.8" r="2.6" fill="#8a8784" stroke="#b39a6a" stroke-width="0.7"/>
<circle cx="204.6" cy="737.9" r="8" fill="#3f3c39"/><circle cx="204.6" cy="737.9" r="7" fill="#8d8a87" stroke="#777" stroke-width="0.8"/><circle cx="204.6" cy="737.9" r="2.6" fill="#8a8784" stroke="#b39a6a" stroke-width="0.7"/>
<circle cx="231.5" cy="712.8" r="8" fill="#3f3c39"/><circle cx="231.5" cy="712.8" r="7" fill="#c0597f" stroke="#777" stroke-width="0.8"/><circle cx="231.5" cy="712.8" r="2.6" fill="#8a8784" stroke="#b39a6a" stroke-width="0.7"/>
<circle cx="231.5" cy="737.9" r="8" fill="#3f3c39"/><circle cx="231.5" cy="737.9" r="7" fill="#c0597f" stroke="#777" stroke-width="0.8"/><circle cx="231.5" cy="737.9" r="2.6" fill="#8a8784" stroke="#b39a6a" stroke-width="0.7"/>
<circle cx="252.3" cy="712.8" r="8" fill="#3f3c39"/><circle cx="252.3" cy="712.8" r="7" fill="#8d8a87" stroke="#777" stroke-width="0.8"/><circle cx="252.3" cy="712.8" r="2.6" fill="#8a8784" stroke="#b39a6a" stroke-width="0.7"/>
<circle cx="252.3" cy="737.9" r="8" fill="#3f3c39"/><circle cx="252.3" cy="737.9" r="7" fill="#8d8a87" stroke="#777" stroke-width="0.8"/><circle cx="252.3" cy="737.9" r="2.6" fill="#8a8784" stroke="#b39a6a" stroke-width="0.7"/>
<circle cx="278.2" cy="712.8" r="8" fill="#3f3c39"/><circle cx="278.2" cy="712.8" r="7" fill="#c0597f" stroke="#777" stroke-width="0.8"/><circle cx="278.2" cy="712.8" r="2.6" fill="#8a8784" stroke="#b39a6a" stroke-width="0.7"/>
<circle cx="278.2" cy="737.9" r="8" fill="#3f3c39"/><circle cx="278.2" cy="737.9" r="7" fill="#c0597f" stroke="#777" stroke-width="0.8"/><circle cx="278.2" cy="737.9" r="2.6" fill="#8a8784" stroke="#b39a6a" stroke-width="0.7"/>
<circle cx="299" cy="712.8" r="8" fill="#3f3c39"/><circle cx="299" cy="712.8" r="7" fill="#8d8a87" stroke="#777" stroke-width="0.8"/><circle cx="299" cy="712.8" r="2.6" fill="#8a8784" stroke="#b39a6a" stroke-width="0.7"/>
<circle cx="299" cy="737.9" r="8" fill="#3f3c39"/><circle cx="299" cy="737.9" r="7" fill="#8d8a87" stroke="#777" stroke-width="0.8"/><circle cx="299" cy="737.9" r="2.6" fill="#8a8784" stroke="#b39a6a" stroke-width="0.7"/>
<circle cx="325.9" cy="712.8" r="8" fill="#3f3c39"/><circle cx="325.9" cy="712.8" r="7" fill="#c0597f" stroke="#777" stroke-width="0.8"/><circle cx="325.9" cy="712.8" r="2.6" fill="#8a8784" stroke="#b39a6a" stroke-width="0.7"/>
<circle cx="325.9" cy="737.9" r="8" fill="#3f3c39"/><circle cx="325.9" cy="737.9" r="7" fill="#c0597f" stroke="#777" stroke-width="0.8"/><circle cx="325.9" cy="737.9" r="2.6" fill="#8a8784" stroke="#b39a6a" stroke-width="0.7"/>
<circle cx="346.7" cy="712.8" r="8" fill="#3f3c39"/><circle cx="346.7" cy="712.8" r="7" fill="#8d8a87" stroke="#777" stroke-width="0.8"/><circle cx="346.7" cy="712.8" r="2.6" fill="#8a8784" stroke="#b39a6a" stroke-width="0.7"/>
<circle cx="346.7" cy="737.9" r="8" fill="#3f3c39"/><circle cx="346.7" cy="737.9" r="7" fill="#8d8a87" stroke="#777" stroke-width="0.8"/><circle cx="346.7" cy="737.9" r="2.6" fill="#8a8784" stroke="#b39a6a" stroke-width="0.7"/>
<rect x="391.2" y="681.5" width="57.5" height="34.1" fill="#57534f" stroke="#9a9a9a" stroke-width="0.9"/>
<rect x="391.6" y="681.9" width="56.7" height="4.5" fill="#9a9a9a"/>
<path d="M394.8,701.2 L404,690.3 H437.5 L446.6,701.2 L437.5,712 H404 Z" fill="#47443f" stroke="#6a6764" stroke-width="0.8"/>
<rect x="406.7" y="691.8" width="28" height="18.8" rx="3" fill="#54514e" stroke="#3a3734" stroke-width="0.8"/>
<path d="M414,697 V703 M427.5,697 V703" stroke="#8a8784" stroke-width="1.2"/>
<rect x="164.3" y="613.6" width="106.8" height="47.6" rx="9" fill="none" stroke="#fff" stroke-width="8"/>
<rect x="164.3" y="613.6" width="106.8" height="47.6" rx="9" fill="none" stroke="#c8709a" stroke-width="6"/>
</svg></body></html>
